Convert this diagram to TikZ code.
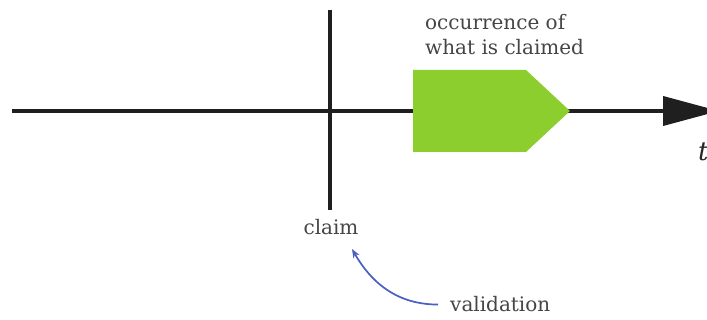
\documentclass[tikz,border=0pt]{standalone}
\usepackage{fontspec}
\setmainfont{DejaVu Serif}
\usetikzlibrary{arrows.meta}
\definecolor{grn}{HTML}{8BCE2E}
\definecolor{txt}{HTML}{454545}
\definecolor{blu}{HTML}{4A5FC0}
\begin{document}
\begin{tikzpicture}[x=1pt,y=-1pt,
  lbl/.style={text=txt,font=\fontsize{20}{25}\selectfont,inner sep=0pt,align=left},
  axis/.style={line width=3.8pt,draw=black!88}]
\useasboundingbox (0,0) rectangle (707,320);
\coordinate (L) at (12,111);
\coordinate (R) at (719,111);
\coordinate (T) at (330,10);
\coordinate (B) at (330,210);
\draw[axis,-{Triangle[length=56pt,width=29pt]}] (L) -- (R);
\draw[axis] (T) -- (B);
\fill[grn] (413,70) -- (526,70) -- (570,111) -- (526,152) -- (413,152) -- cycle;
\node[lbl,anchor=base west] (occ) at (425,55) {occurrence of\\what is claimed};
\node[lbl,anchor=base] (claim) at (331,235) {claim};
\node[lbl,anchor=base west] (val) at (450,312) {validation};
\node[text=black!85,font=\fontsize{26}{26}\selectfont\itshape,inner sep=0pt,anchor=base west] (t) at (698,161) {t};
\draw[blu,line width=1.7pt,-{Stealth[length=9pt,width=7pt]}] (val.west) ++(-12,0) coordinate (vs) (vs) to[out=180,in=-60] (352,249);
\end{tikzpicture}
\end{document}
